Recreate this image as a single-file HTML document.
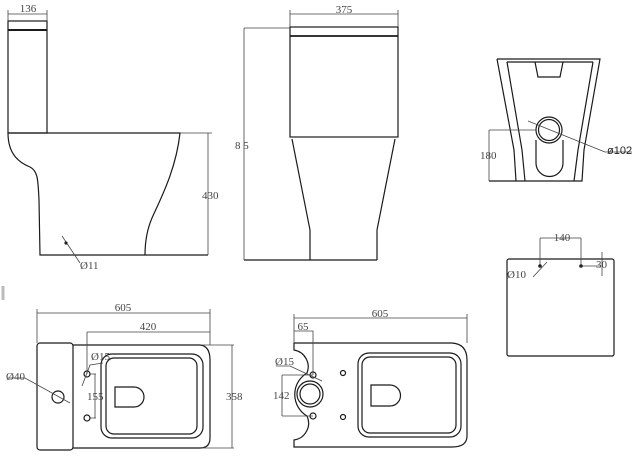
<!DOCTYPE html>
<html><head><style>html,body{margin:0;padding:0;background:#fff}svg{display:block}</style></head><body>
<svg width="643" height="459" viewBox="0 0 643 459" xmlns="http://www.w3.org/2000/svg" font-family="Liberation Serif, serif" font-size="11">
<g fill="none" stroke="#1a1a1a" stroke-width="1.2">
<!-- side view -->
<rect x="8" y="21" width="39" height="112"/>
<line x1="8" y1="30" x2="47" y2="30" stroke-width="2"/>
<path d="M8,133 L180,133 C176,170 160,200 152,218 C146,232 145,245 145,255"/>
<path d="M8,133 C8,155 20,163 30,167 C38,171 38,180 39,200 L40,255 L208,255"/>
<!-- front view -->
<rect x="290" y="27" width="108" height="110"/>
<line x1="290" y1="36" x2="398" y2="36" stroke-width="1.8"/>
<path d="M292,139 L310,230 L310,260 M395,139 L377,230 L377,260 M244,260 L377,260"/>
<!-- rear view -->
<path d="M497,59 L600,59 L584,150 L582,181 L489,181"/>
<path d="M497,59 L514,150 L516,181"/>
<path d="M507,62 L522,150 L525,181 M593,62 L578,150 L574,181 M507,62 L593,62"/>
<path d="M535,62 L538,77 L560,77 L563,62"/>
<circle cx="549" cy="130" r="13"/><circle cx="549" cy="130" r="10.5"/>
<path d="M536,140 L536,163 A13.5,13.5 0 0 0 563,163 L563,140"/>
<!-- right mid rect -->
<rect x="507" y="259" width="107" height="97" rx="2"/>
<!-- bottom left plan -->
<rect x="37" y="343" width="36" height="107" rx="3"/>
<path d="M73,345 L200,345 Q210,346 210,360 L210,438 Q210,448 200,448 L73,448"/>
<rect x="101" y="354" width="102" height="84" rx="11"/>
<rect x="106" y="358" width="91" height="76" rx="8"/>
<path d="M115,387 L134,387 A10,10 0 0 1 134,407 L115,407 Z"/>
<circle cx="87" cy="374" r="3"/><circle cx="87" cy="418" r="3"/>
<circle cx="58" cy="397" r="6"/>
<!-- bottom middle plan -->
<path d="M294,343 L452,343 Q467,344 467,360 L467,436 Q467,447 452,447 L294,447 L294,440 A17,17 0 0 0 307,416 A25,25 0 0 1 307,373 A17,17 0 0 0 294,350 Z"/>
<circle cx="310" cy="394" r="13"/><circle cx="310" cy="394" r="10"/>
<circle cx="313" cy="375" r="3"/><circle cx="313" cy="416" r="3"/>
<circle cx="343" cy="373" r="2.5"/><circle cx="343" cy="417" r="2.5"/>
<rect x="358" y="353" width="103" height="84" rx="11"/>
<rect x="362" y="357" width="94" height="76" rx="8"/>
<path d="M371,385 L390,385 A10.5,10.5 0 0 1 390,406 L371,406 Z"/>
</g>
<!-- dimension lines -->
<g fill="none" stroke="#444" stroke-width="0.8">
<path d="M8,14 L47,14 M8,10 L8,21 M47,10 L47,21"/>
<path d="M180,133 L212,133 M208,133 L208,255"/>
<path d="M62,236 L80,263"/>
<path d="M290,14 L398,14 M290,10 L290,27 M398,10 L398,27"/>
<path d="M244,28 L290,28 M244,28 L244,260"/>
<path d="M489,130 L536,130 M489,130 L489,181"/>
<path d="M528,121 L605,152 M605,152 L632,152"/>
<path d="M540,238 L581,238 M540,238 L540,266 M581,238 L581,266 M581,266 L600,266 M602,252 L602,276"/>
<path d="M533,277 L547,262"/>
<path d="M37,313 L210,313 M37,309 L37,343 M210,309 L210,345"/>
<path d="M87,332 L210,332 M87,332 L87,374"/>
<path d="M95,374 L95,418 M89,374 L96,374 M89,418 L96,418"/>
<path d="M202,345 L234,345 M202,448 L234,448 M232,345 L232,448"/>
<path d="M8,378 L25,378 L70,403"/>
<path d="M82,386 L90,365 L103,363"/>
<path d="M294,318 L467,318 M294,314 L294,343 M467,314 L467,343"/>
<path d="M294,331 L313,331 L313,375"/>
<path d="M282,375 L313,375 M282,416 L313,416 M282,375 L282,416"/>
<path d="M276,366 L290,366 L322,381"/>
<line x1="3" y1="286" x2="3" y2="300" stroke="#bbb" stroke-width="3"/>
</g>
<circle cx="66" cy="243" r="1.6" fill="#222"/>
<circle cx="540" cy="266" r="1.8" fill="#222"/><circle cx="581" cy="266" r="1.8" fill="#222"/>
<g fill="#444">
<text x="28" y="12" text-anchor="middle">136</text>
<text x="202" y="199">430</text>
<text x="80" y="269">Ø11</text>
<text x="344" y="13" text-anchor="middle">375</text>
<text x="235" y="149">8 5</text>
<text x="480" y="159">180</text>
<text x="607" y="154" font-family="Liberation Sans, sans-serif" font-size="11" fill="#222">ø102</text>
<text x="562" y="241" text-anchor="middle">140</text>
<text x="596" y="268">30</text>
<text x="507" y="278">Ø10</text>
<text x="123" y="311" text-anchor="middle">605</text>
<text x="148" y="330" text-anchor="middle">420</text>
<text x="226" y="400">358</text>
<text x="87" y="400">155</text>
<text x="6" y="380">Ø40</text>
<text x="91" y="360">Ø15</text>
<text x="380" y="317" text-anchor="middle">605</text>
<text x="303" y="330" text-anchor="middle">65</text>
<text x="275" y="365">Ø15</text>
<text x="273" y="399">142</text>
</g>
</svg>
</body></html>
